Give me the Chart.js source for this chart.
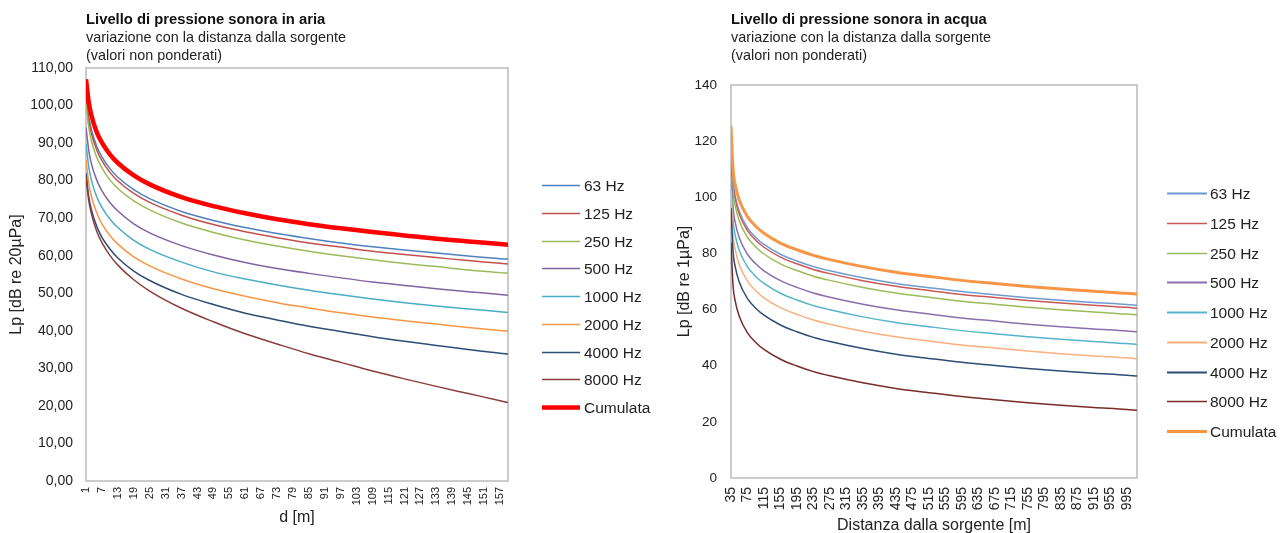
<!DOCTYPE html>
<html>
<head>
<meta charset="utf-8">
<script src="https://cdn.jsdelivr.net/npm/chart.js@4.4.1/dist/chart.umd.min.js"></script>
<style>
  html, body { margin: 0; padding: 0; background: #ffffff; }
  #wrap { position: relative; width: 1288px; height: 533px; overflow: hidden; background: #ffffff; }
  .pane { position: absolute; top: 0; height: 533px; }
</style>
</head>
<body>
<div id="wrap">
  <div class="pane" style="left:0;width:660px"><canvas id="air" width="660" height="533"></canvas></div>
  <div class="pane" style="left:660px;width:628px"><canvas id="water" width="628" height="533"></canvas></div>
</div>
<script>
// Octave bands plus the cumulative level
const bandLabels = ['63 Hz', '125 Hz', '250 Hz', '500 Hz', '1000 Hz', '2000 Hz', '4000 Hz', '8000 Hz', 'Cumulata'];

// ---- Air: distance [m] and Lp [dB re 20µPa] ----
const airDist  = [1, 2, 3, 5, 7, 10, 13, 19, 25, 37, 49, 61, 73, 85, 97, 109, 121, 133, 145, 157, 160];
const air63    = [103.2, 97.2, 93.7, 89.2, 86.3, 83.2, 80.9, 77.6, 75.2, 71.8, 69.4, 67.5, 65.9, 64.6, 63.4, 62.4, 61.5, 60.7, 59.9, 59.2, 59.1];
const air125   = [102.2, 96.2, 92.7, 88.2, 85.3, 82.2, 79.9, 76.6, 74.2, 70.8, 68.3, 66.4, 64.8, 63.4, 62.3, 61.2, 60.3, 59.5, 58.7, 58.0, 57.8];
const air250   = [100.3, 94.3, 90.7, 86.3, 83.4, 80.2, 77.9, 74.6, 72.2, 68.7, 66.2, 64.2, 62.6, 61.2, 60.0, 58.9, 57.9, 57.1, 56.2, 55.5, 55.3];
const air500   = [94.2, 88.2, 84.6, 80.2, 77.3, 74.2, 71.9, 68.5, 66.1, 62.7, 60.2, 58.2, 56.6, 55.3, 54.1, 53.0, 52.1, 51.2, 50.4, 49.7, 49.5];
const air1000  = [89.8, 83.8, 80.2, 75.8, 72.9, 69.8, 67.5, 64.1, 61.7, 58.3, 55.7, 53.8, 52.2, 50.8, 49.6, 48.5, 47.5, 46.6, 45.8, 45.1, 44.9];
const air2000  = [85.5, 79.5, 75.9, 71.5, 68.5, 65.4, 63.1, 59.7, 57.3, 53.8, 51.2, 49.2, 47.5, 46.1, 44.8, 43.7, 42.7, 41.8, 40.9, 40.1, 39.9];
const air4000  = [82.0, 75.9, 72.4, 67.9, 64.9, 61.8, 59.4, 55.9, 53.4, 49.7, 47.0, 44.7, 42.9, 41.2, 39.8, 38.4, 37.2, 36.1, 35.0, 34.0, 33.8];
const air8000  = [81.0, 74.9, 71.3, 66.6, 63.5, 60.1, 57.5, 53.6, 50.6, 46.0, 42.4, 39.2, 36.5, 33.9, 31.6, 29.3, 27.2, 25.2, 23.3, 21.4, 20.9];
const airTotal = [107.0, 101.0, 97.5, 93.0, 90.1, 87.0, 84.7, 81.4, 79.0, 75.6, 73.2, 71.3, 69.7, 68.4, 67.3, 66.3, 65.4, 64.5, 63.8, 63.1, 62.9];
const airTicks = [1, 7, 13, 19, 25, 31, 37, 43, 49, 55, 61, 67, 73, 79, 85, 91, 97, 103, 109, 115, 121, 127, 133, 139, 145, 151, 157];

// ---- Water: distance [m] and Lp [dB re 1µPa] ----
const waterDist  = [35, 40, 45, 55, 75, 95, 115, 155, 195, 235, 275, 355, 435, 515, 595, 675, 755, 835, 915, 995, 1020];
const water63    = [121.4, 105.8, 100.6, 95.0, 89.1, 85.7, 83.2, 79.7, 77.3, 75.3, 73.8, 71.3, 69.3, 67.8, 66.4, 65.3, 64.2, 63.3, 62.5, 61.8, 61.5];
const water125   = [120.4, 104.8, 99.6, 94.0, 88.1, 84.7, 82.2, 78.7, 76.3, 74.3, 72.8, 70.3, 68.3, 66.8, 65.4, 64.3, 63.2, 62.3, 61.5, 60.8, 60.5];
const water250   = [118.0, 102.4, 97.2, 91.6, 85.7, 82.3, 79.8, 76.3, 73.9, 71.9, 70.4, 67.9, 65.9, 64.4, 63.0, 61.9, 60.8, 59.9, 59.1, 58.4, 58.1];
const water500   = [112.0, 96.4, 91.2, 85.6, 79.7, 76.3, 73.8, 70.3, 67.9, 65.9, 64.4, 61.9, 59.9, 58.4, 57.0, 55.9, 54.8, 53.9, 53.1, 52.4, 52.1];
const water1000  = [107.5, 91.9, 86.7, 81.1, 75.2, 71.8, 69.3, 65.8, 63.4, 61.4, 59.9, 57.4, 55.4, 53.9, 52.5, 51.4, 50.3, 49.4, 48.6, 47.9, 47.6];
const water2000  = [102.4, 86.8, 81.6, 76.0, 70.1, 66.7, 64.2, 60.7, 58.3, 56.3, 54.8, 52.3, 50.3, 48.8, 47.4, 46.3, 45.2, 44.3, 43.5, 42.8, 42.5];
const water4000  = [96.2, 80.6, 75.4, 69.8, 63.9, 60.5, 58.0, 54.5, 52.1, 50.1, 48.6, 46.1, 44.1, 42.6, 41.2, 40.1, 39.0, 38.1, 37.3, 36.6, 36.3];
const water8000  = [84.0, 68.4, 63.2, 57.6, 51.7, 48.3, 45.8, 42.3, 39.9, 37.9, 36.4, 33.9, 31.9, 30.4, 29.0, 27.9, 26.8, 25.9, 25.1, 24.4, 24.1];
const waterTotal = [125.4, 109.8, 104.6, 99.0, 93.1, 89.7, 87.2, 83.7, 81.3, 79.3, 77.8, 75.3, 73.3, 71.8, 70.4, 69.3, 68.2, 67.3, 66.5, 65.8, 65.5];
const waterTicks = [35, 75, 115, 155, 195, 235, 275, 315, 355, 395, 435, 475, 515, 555, 595, 635, 675, 715, 755, 795, 835, 875, 915, 955, 995];

const airColors   = ['#4F81BD', '#C0504D', '#9BBB59', '#8064A2', '#4BACC6', '#F79646', '#2C4D75', '#8A3E3B', '#FF0000'];
const waterColors = ['#6F9BD1', '#C65A57', '#9BBB59', '#8A6FAE', '#55B4CC', '#F9B07E', '#2C4D75', '#772C2A', '#F79646'];

const FONT = '"Liberation Sans", Arial, Helvetica, sans-serif';
Chart.defaults.font.family = FONT;
Chart.defaults.color = '#222222';

// Grey rectangle around the plot area
const plotFrame = {
  id: 'plotFrame',
  beforeDatasetsDraw(chart, args, o) {
    const { ctx, chartArea: a } = chart;
    ctx.save();
    ctx.strokeStyle = o.color;
    ctx.lineWidth = o.width;
    ctx.strokeRect(a.left, a.top, a.right - a.left, a.bottom - a.top);
    ctx.restore();
  }
};

// Vertical key with a line sample per series
const seriesKey = {
  id: 'seriesKey',
  afterDraw(chart, args, o) {
    const ctx = chart.ctx;
    chart.data.datasets.forEach((ds, i) => {
      const y = Math.round(o.y0 + i * o.step) + 0.5;
      ctx.save();
      ctx.strokeStyle = ds.borderColor;
      ctx.lineWidth = ds.keyWidth;
      ctx.beginPath();
      ctx.moveTo(o.x0, y);
      ctx.lineTo(o.x1, y);
      ctx.stroke();
      ctx.fillStyle = o.color;
      ctx.font = o.font;
      ctx.textBaseline = 'middle';
      ctx.textAlign = 'left';
      ctx.fillText(ds.label, o.tx, y + 1);
      ctx.restore();
    });
  }
};

function buildDatasets(dist, series, colors, widths, keyWidths) {
  return series.map((vals, i) => ({
    label: bandLabels[i],
    data: dist.map((d, k) => ({ x: d, y: vals[k] })),
    borderColor: colors[i],
    backgroundColor: colors[i],
    borderWidth: widths[i],
    keyWidth: keyWidths[i],
    pointRadius: 0,
    cubicInterpolationMode: 'monotone',
    fill: false,
    order: series.length - 1 - i
  }));
}

function makeChart(id, cfg) {
  return new Chart(document.getElementById(id), {
    type: 'line',
    data: { datasets: cfg.datasets },
    plugins: [plotFrame, seriesKey],
    options: {
      responsive: false,
      animation: false,
      devicePixelRatio: 1,
      layout: { padding: { left: 0, right: cfg.padRight, top: 0, bottom: 0 } },
      plugins: {
        legend: { display: false },
        tooltip: { enabled: false },
        title: {
          display: true, text: cfg.title, align: 'start', fullSize: false,
          color: '#111111',
          font: { size: 14.8, weight: 'bold', lineHeight: '18px' },
          padding: { top: 11, bottom: 0 }
        },
        subtitle: {
          display: true, text: cfg.subtitle, align: 'start', fullSize: false,
          color: '#222222',
          font: { size: 14.4, lineHeight: '18px' },
          padding: { top: 0, bottom: cfg.subPad }
        },
        plotFrame: { color: '#c4c4c4', width: 1.75 },
        seriesKey: cfg.key
      },
      scales: {
        x: {
          type: 'linear',
          min: cfg.xMin, max: cfg.xMax,
          afterBuildTicks: s => { s.ticks = cfg.xTicks.map(v => ({ value: v })); },
          afterFit: s => { s.height = cfg.xHeight; },
          grid: { display: false, drawTicks: false },
          border: { display: false },
          ticks: {
            autoSkip: false, maxRotation: 90, minRotation: 90,
            padding: cfg.xTickPad, color: '#222222',
            font: { size: cfg.xTickSize },
            callback: v => String(v)
          },
          title: {
            display: true, text: cfg.xTitle, color: '#222222',
            font: { size: 16, lineHeight: 1.2 }, padding: { top: 0, bottom: cfg.xTitlePad }
          }
        },
        y: {
          type: 'linear',
          min: cfg.yMin, max: cfg.yMax,
          afterFit: s => { s.width = cfg.yWidth; },
          grid: { display: false, drawTicks: false },
          border: { display: false },
          ticks: {
            stepSize: cfg.yStep, padding: cfg.yTickPad, color: '#222222',
            font: { size: cfg.yTickSize },
            callback: cfg.yFormat
          },
          title: {
            display: true, text: cfg.yTitle, color: '#222222',
            font: { size: 16, lineHeight: 1.2 }, padding: { top: cfg.yTitlePad, bottom: 0 }
          }
        }
      }
    }
  });
}

makeChart('air', {
  datasets: buildDatasets(
    airDist,
    [air63, air125, air250, air500, air1000, air2000, air4000, air8000, airTotal],
    airColors,
    [1.5, 1.5, 1.5, 1.5, 1.5, 1.5, 1.5, 1.5, 4.5],
    [1.5, 1.5, 1.5, 1.5, 1.5, 1.5, 1.5, 1.5, 4.5]
  ),
  title: 'Livello di pressione sonora in aria',
  subtitle: ['variazione con la distanza dalla sorgente', '(valori non ponderati)'],
  subPad: 3,
  padRight: 152,
  xMin: 1, xMax: 160, xTicks: airTicks, xHeight: 52, xTickSize: 11, xTickPad: 6,
  xTitle: 'd [m]', xTitlePad: 6,
  yMin: 0, yMax: 110, yStep: 10, yWidth: 86, yTickPad: 13, yTickSize: 14,
  yTitle: 'Lp [dB re 20µPa]', yTitlePad: 7,
  yFormat: v => v.toFixed(2).replace('.', ','),
  key: { x0: 542, x1: 580, tx: 584, y0: 185, step: 27.75, font: '15.5px ' + FONT, color: '#222222' }
});

makeChart('water', {
  datasets: buildDatasets(
    waterDist,
    [water63, water125, water250, water500, water1000, water2000, water4000, water8000, waterTotal],
    waterColors,
    [1.5, 1.5, 1.5, 1.5, 1.5, 1.5, 1.5, 1.5, 3],
    [2, 1.5, 1.5, 2, 2, 2, 2, 1.5, 3]
  ),
  title: 'Livello di pressione sonora in acqua',
  subtitle: ['variazione con la distanza dalla sorgente', '(valori non ponderati)'],
  subPad: 20,
  padRight: 151,
  xMin: 35, xMax: 1020, xTicks: waterTicks, xHeight: 55, xTickSize: 14, xTickPad: 9,
  xTitle: 'Distanza dalla sorgente [m]', xTitlePad: -2,
  yMin: 0, yMax: 140, yStep: 20, yWidth: 71, yTickPad: 14, yTickSize: 13.5,
  yTitle: 'Lp [dB re 1µPa]', yTitlePad: 15,
  yFormat: v => String(v),
  key: { x0: 507, x1: 547, tx: 550, y0: 193.3, step: 29.7, font: '15.5px ' + FONT, color: '#222222' }
});
</script>
</body>
</html>
